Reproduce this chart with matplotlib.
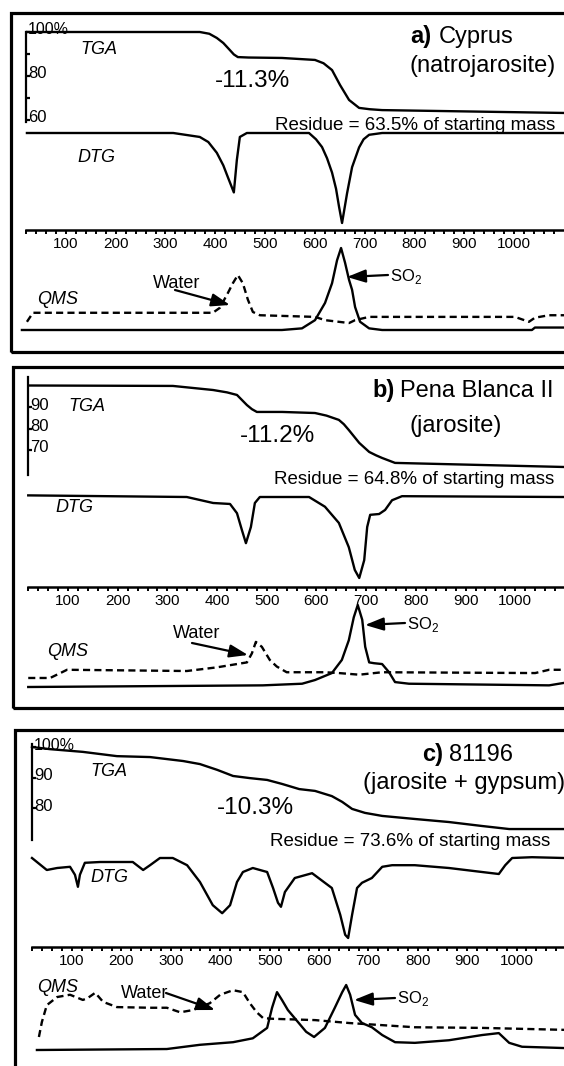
import matplotlib
matplotlib.use("Agg")
import matplotlib.pyplot as plt
from matplotlib.patches import Rectangle, FancyArrowPatch

plt.rcParams['font.family'] = ['Liberation Sans', 'DejaVu Sans']
plt.rcParams['mathtext.fontset'] = 'custom'
plt.rcParams['mathtext.rm'] = 'Liberation Sans'
plt.rcParams['lines.solid_joinstyle'] = 'round'
plt.rcParams['lines.dash_joinstyle'] = 'round'

W, H = 564, 1066

# ---- data (temperature in deg C; TGA in mass %; DTG / QMS in arbitrary units)
# a) Cyprus (natrojarosite)
tga_a_t = [28, 373, 392, 407, 420, 433, 441, 449, 470, 537, 603, 620, 637, 653, 671, 691, 712, 737, 1100]
tga_a_m = [100, 100, 99.2, 97.3, 95.0, 91.8, 89.8, 88.6, 88.4, 88.2, 87.3, 85.8, 82.7, 75.9, 69.1, 65.5, 64.9, 64.5, 63.2]
dtg_a_t = [28, 320, 373, 390, 407, 420, 429, 441, 447, 453, 467, 591, 605, 617, 627, 637, 645, 651, 657, 667, 677, 691, 700, 711, 737, 1100]
dtg_a = [0, 0, -0.044, -0.10, -0.22, -0.36, -0.49, -0.66, -0.30, -0.044, 0, 0, -0.07, -0.156, -0.28, -0.44, -0.62, -0.82, -1.0, -0.67, -0.38, -0.16, -0.07, -0.02, 0, 0]
h2o_a_t = [28, 40, 399, 413, 429, 439, 449, 459, 469, 479, 493, 603, 623, 671, 683, 711, 1002, 1030, 1042, 1070, 1100]
h2o_a = [0.10, 0.21, 0.21, 0.27, 0.45, 0.57, 0.67, 0.57, 0.37, 0.22, 0.18, 0.16, 0.12, 0.085, 0.12, 0.16, 0.16, 0.10, 0.15, 0.18, 0.18]
so2_a_t = [18, 537, 577, 603, 623, 637, 647, 655, 663, 671, 677, 683, 693, 711, 737, 1036, 1042, 1100]
so2_a = [0, 0, 0.02, 0.12, 0.33, 0.57, 0.85, 1.0, 0.82, 0.61, 0.49, 0.28, 0.10, 0.02, 0, 0, 0.03, 0.03]

# b) Pena Blanca II (jarosite)
tga_b_t = [20, 311, 392, 420, 440, 460, 470, 480, 531, 597, 620, 645, 655, 665, 686, 706, 720, 732, 758, 1098]
tga_b_m = [100, 99.8, 97.9, 96.8, 95.6, 90.9, 89.0, 87.7, 87.7, 87.2, 86.0, 84.0, 82.0, 79.3, 73.3, 69.1, 67.5, 66.3, 64.0, 62.1]
dtg_b_t = [20, 339, 392, 426, 440, 450, 458, 468, 476, 486, 585, 617, 645, 665, 677, 686, 696, 702, 708, 726, 738, 752, 772, 1098]
dtg_b = [0.02, 0, -0.074, -0.086, -0.20, -0.41, -0.57, -0.37, -0.074, 0, 0, -0.12, -0.32, -0.62, -0.90, -1.0, -0.78, -0.37, -0.22, -0.21, -0.16, -0.04, 0.01, 0]
h2o_b_t = [20, 64, 88, 98, 339, 400, 460, 470, 478, 490, 506, 520, 540, 617, 645, 686, 732, 1040, 1068, 1098]
h2o_b = [0.11, 0.11, 0.18, 0.21, 0.195, 0.24, 0.30, 0.41, 0.55, 0.49, 0.33, 0.25, 0.18, 0.18, 0.17, 0.15, 0.18, 0.17, 0.21, 0.21]
so2_b_t = [20, 492, 571, 597, 631, 651, 665, 675, 683, 692, 698, 706, 716, 732, 746, 758, 786, 1068, 1098]
so2_b = [0, 0.02, 0.04, 0.085, 0.17, 0.33, 0.57, 0.85, 1.0, 0.82, 0.49, 0.30, 0.29, 0.28, 0.18, 0.06, 0.04, 0.02, 0.05]

# c) 81196 (jarosite + gypsum)
tga_c_t = [19, 55, 122, 191, 258, 325, 359, 394, 426, 460, 495, 525, 560, 592, 626, 647, 667, 693, 728, 794, 863, 930, 985, 1096]
tga_c_m = [100, 99.3, 98.4, 97.0, 96.7, 95.4, 94.4, 92.5, 90.5, 89.8, 89.2, 87.9, 86.2, 85.6, 83.9, 82.0, 79.7, 78.4, 77.4, 76.4, 75.4, 74.1, 73.1, 73.1]
dtg_c_t = [19, 49, 70, 96, 106, 112, 116, 126, 157, 223, 244, 258, 278, 304, 333, 359, 385, 404, 420, 434,
           446, 466, 495, 507, 517, 523, 531, 551, 586, 626, 643, 653, 659, 667, 677, 687, 707, 728, 748, 794,
           863, 930, 964, 977, 991, 1031, 1096]
dtg_c = [0, -0.15, -0.125, -0.11, -0.21, -0.36, -0.21, -0.06, -0.05, -0.05, -0.15, -0.09, 0, 0, -0.09, -0.30, -0.59, -0.69, -0.59, -0.30,
         -0.175, -0.125, -0.175, -0.375, -0.56, -0.61, -0.425, -0.25, -0.19, -0.375, -0.71, -0.96, -1.0, -0.71, -0.375, -0.31, -0.25, -0.11, -0.09, -0.09,
         -0.125, -0.175, -0.20, -0.09, 0, 0.01, 0]
h2o_c_t = [33, 39, 49, 70, 96, 122, 132, 147, 163, 191, 258, 292, 319, 345, 379, 400, 426, 446, 460, 474, 487, 507, 592, 661, 794, 930, 1096]
h2o_c = [0.20, 0.43, 0.69, 0.815, 0.85, 0.77, 0.80, 0.88, 0.74, 0.66, 0.65, 0.65, 0.58, 0.615, 0.72, 0.85, 0.92, 0.89, 0.72, 0.58, 0.49, 0.48, 0.46, 0.415, 0.35, 0.34, 0.31]
so2_c_t = [29, 292, 359, 426, 466, 495, 505, 515, 525, 537, 574, 590, 612, 632, 647, 655, 663, 673, 687, 707, 728, 754, 794, 863, 930, 964, 985, 1011, 1096]
so2_c = [0, 0.015, 0.08, 0.12, 0.18, 0.34, 0.65, 0.89, 0.77, 0.615, 0.28, 0.20, 0.34, 0.65, 0.89, 1.0, 0.85, 0.54, 0.415, 0.35, 0.23, 0.12, 0.11, 0.15, 0.23, 0.26, 0.11, 0.05, 0.03]

temp_ticks = list(range(100, 1001, 100))

fig = plt.figure(figsize=(W / 100, H / 100), dpi=100)


def px_axes(x0, y_top, x1, y_bot):
    ax = fig.add_axes([x0 / W, 1 - y_bot / H, (x1 - x0) / W, (y_bot - y_top) / H])
    ax.patch.set_visible(False)
    for sp in ax.spines.values():
        sp.set_visible(False)
    ax.set_xticks([])
    ax.set_yticks([])
    return ax


def label(x, y, s, **kw):
    kw.setdefault('va', 'center')
    kw.setdefault('ha', 'left')
    fig.text(x / W, 1 - y / H, s, **kw)


def arrow(tail, tip):
    fig.add_artist(FancyArrowPatch(
        (tail[0] / W, 1 - tail[1] / H), (tip[0] / W, 1 - tip[1] / H),
        transform=fig.transFigure, arrowstyle='-|>,head_length=0.8,head_width=0.28',
        mutation_scale=14, lw=1.6, color='black', shrinkA=0, shrinkB=0))


def draw_panel(lay, tga_t, tga_m, dtg_t, dtg_v, h2o_t, h2o_v, so2_t, so2_v):
    p100, s = lay['xcal']
    xa = lay['xa']
    tlim = (100 + (xa - p100) / s, 100 + (W - p100) / s)

    x0, y0, y1 = lay['frame']
    fig.add_artist(Rectangle((x0 / W, 1 - y1 / H), (W + 30 - x0) / W, (y1 - y0) / H,
                             transform=fig.transFigure, fill=False, lw=2.3, ec='black'))

    # TGA
    y100, k, st, sb = lay['tga']
    ax = px_axes(xa, st, W, sb)
    ax.set_xlim(tlim)
    ax.set_ylim(100 - (sb - y100) / k, 100 + (y100 - st) / k)
    ax.spines['left'].set_visible(True)
    ax.spines['left'].set_linewidth(1.6)
    ax.set_yticks(lay['tga_ticks'])
    ax.tick_params(axis='y', which='major', direction='in', length=3, width=1.6, labelleft=False)
    if 100 in lay['tga_labels']:
        ax.set_yticks([100], minor=True)
        ax.tick_params(axis='y', which='minor', direction='out', length=3, width=1.6, labelleft=False)
    for v, lab in lay['tga_labels'].items():
        fs = 11.5 if lab.endswith('%') else 12
        ax.annotate(lab, xy=(0, v), xycoords=ax.get_yaxis_transform(), xytext=(2, 2),
                    textcoords='offset pixels', ha='left', va='center', fontsize=fs)
    ax.plot(tga_t, tga_m, color='black', lw=1.7, clip_on=False)

    # DTG
    yb, ym = lay['dtg']
    ax = px_axes(xa, yb, W, ym)
    ax.set_xlim(tlim)
    ax.set_ylim(-1, 0)
    ax.plot(dtg_t, dtg_v, color='black', lw=1.7, clip_on=False)

    # temperature axis
    yl = lay['taxis']
    ax = px_axes(xa, yl - 10, W, yl)
    ax.set_xlim(tlim)
    ax.spines['bottom'].set_visible(True)
    ax.spines['bottom'].set_linewidth(1.8)
    ax.set_xticks(temp_ticks)
    ax.set_xticks(range(20, 1100, 20), minor=True)
    ax.tick_params(axis='x', which='both', direction='out', length=3, width=1.4,
                   labelsize=11, pad=2)

    # QMS
    yb, yp = lay['qms']
    ax = px_axes(xa, yp, W, yb)
    ax.set_xlim(tlim)
    ax.set_ylim(0, 1)
    ax.plot(so2_t, so2_v, color='black', lw=1.7, clip_on=False)
    ax.plot(h2o_t, h2o_v, color='black', lw=1.7, ls=(0, (3, 1.8)), clip_on=False)


lay_a = dict(frame=(11, 13, 352), xcal=(63, 0.501), xa=26, tga=(32, 2.2, 32, 122),
             tga_ticks=[100, 90, 80, 70, 60], tga_labels={100: '100%', 80: '80', 60: '60'},
             dtg=(133, 223), taxis=230, qms=(330, 248))
lay_b = dict(frame=(13, 367, 708), xcal=(68, 0.497), xa=28, tga=(385.5, 2.15, 377, 475),
             tga_ticks=[90, 80, 70], tga_labels={90: '90', 80: '80', 70: '70'},
             dtg=(497, 578), taxis=587, qms=(687, 605))
lay_c = dict(frame=(15, 730, 1090), xcal=(72, 0.494), xa=32, tga=(747, 3.05, 744, 840),
             tga_ticks=[100, 90, 80], tga_labels={100: '100%', 90: '90', 80: '80'},
             dtg=(858, 938), taxis=947, qms=(1050, 985))

draw_panel(lay_a, tga_a_t, tga_a_m, dtg_a_t, dtg_a, h2o_a_t, h2o_a, so2_a_t, so2_a)
draw_panel(lay_b, tga_b_t, tga_b_m, dtg_b_t, dtg_b, h2o_b_t, h2o_b, so2_b_t, so2_b)
draw_panel(lay_c, tga_c_t, tga_c_m, dtg_c_t, dtg_c, h2o_c_t, h2o_c, so2_c_t, so2_c)

# panel a text
label(80, 49, 'TGA', style='italic', fontsize=13)
label(77, 158, 'DTG', style='italic', fontsize=13)
label(37, 299, 'QMS', style='italic', fontsize=13)
label(215, 81, '-11.3%', fontsize=17.5)
label(410, 37, 'a)', fontsize=17, fontweight='bold')
label(439, 37, 'Cyprus', fontsize=17)
label(483, 66, '(natrojarosite)', fontsize=17, ha='center')
label(555, 125, 'Residue = 63.5% of starting mass', fontsize=13.5, ha='right')
label(177, 283, 'Water', fontsize=13, ha='center')
label(390, 276, 'SO$_2$', fontsize=12)
arrow((175, 290), (230, 305))
arrow((388, 275), (347, 277))

# panel b text
label(68, 406, 'TGA', style='italic', fontsize=13)
label(55, 508, 'DTG', style='italic', fontsize=13)
label(47, 651, 'QMS', style='italic', fontsize=13)
label(240, 436, '-11.2%', fontsize=17.5)
label(372, 391, 'b)', fontsize=17, fontweight='bold')
label(400, 391, 'Pena Blanca II', fontsize=17)
label(456, 426, '(jarosite)', fontsize=17, ha='center')
label(554, 480, 'Residue = 64.8% of starting mass', fontsize=13.5, ha='right')
label(197, 633, 'Water', fontsize=13, ha='center')
label(407, 624, 'SO$_2$', fontsize=12)
arrow((192, 643), (248, 655))
arrow((405, 623), (365, 625))

# panel c text
label(90, 771, 'TGA', style='italic', fontsize=13)
label(90, 878, 'DTG', style='italic', fontsize=13)
label(37, 987, 'QMS', style='italic', fontsize=13)
label(217, 808, '-10.3%', fontsize=17.5)
label(422, 755, 'c)', fontsize=17, fontweight='bold')
label(449, 755, '81196', fontsize=17)
label(464, 783, '(jarosite + gypsum)', fontsize=17, ha='center')
label(550, 842, 'Residue = 73.6% of starting mass', fontsize=13.5, ha='right')
label(145, 993, 'Water', fontsize=13, ha='center')
label(397, 999, 'SO$_2$', fontsize=12)
arrow((166, 993), (215, 1010))
arrow((395, 998), (354, 1000))

fig.savefig('out.png', dpi=100)
